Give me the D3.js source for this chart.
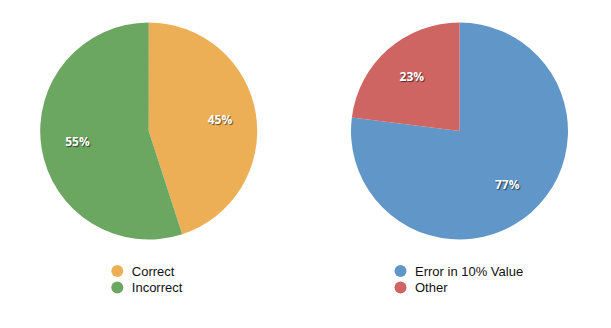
<!DOCTYPE html>
<html>
<head>
<meta charset="utf-8">
<script src="https://cdn.jsdelivr.net/npm/d3@7"></script>
<style>
  body { margin: 0; background: #fff; }
  .slice-label {
    font-family: "Open Sans", sans-serif;
    font-weight: bold;
    font-size: 12px;
    fill: #fff;
    text-shadow: 1px 1px 1px rgba(0,0,0,0.6);
  }
  .legend text {
    font-family: "Liberation Sans", Arial, sans-serif;
    font-size: 13px;
    fill: #111;
  }
</style>
</head>
<body>
<svg id="chart" width="611" height="328"></svg>
<script>
// Chart data
var leftCategories = ["Correct", "Incorrect"];
var leftValues = [45, 55];
var leftColours = ["#edaf56", "#6ca762"];

var rightCategories = ["Error in 10% Value", "Other"];
var rightValues = [77, 23];
var rightColours = ["#6096c8", "#cf6562"];

var svg = d3.select("#chart");
var radius = 108.5;

function drawPie(cx, cy, legendX, categories, values, colours) {
    var rows = categories.map(function(c, i) { return {name: c, value: values[i]}; });

    var pie = d3.pie().sort(null).value(function(d) { return d.value; });
    var arc = d3.arc().innerRadius(0).outerRadius(radius);
    var labelArc = d3.arc().innerRadius(radius * 0.665).outerRadius(radius * 0.665);
    var colour = d3.scaleOrdinal().domain(categories).range(colours);
    var total = d3.sum(values);

    var g = svg.append("g").attr("transform", "translate(" + cx + "," + cy + ")");
    var arcs = pie(rows);

    g.selectAll("path")
        .data(arcs)
        .enter()
        .append("path")
        .attr("d", arc)
        .attr("fill", function(d) { return colour(d.data.name); });

    g.selectAll("text")
        .data(arcs)
        .enter()
        .append("text")
        .attr("class", "slice-label")
        .attr("transform", function(d) { return "translate(" + labelArc.centroid(d) + ")"; })
        .attr("text-anchor", "middle")
        .attr("dy", "0.35em")
        .text(function(d) { return Math.round(d.data.value / total * 100) + "%"; });

    // Legend
    var legend = svg.append("g")
        .attr("class", "legend")
        .attr("transform", "translate(" + legendX + ",271)");

    var item = legend.selectAll("g")
        .data(rows)
        .enter()
        .append("g")
        .attr("transform", function(d, i) { return "translate(0," + (i * 16.5) + ")"; });

    item.append("circle")
        .attr("r", 6)
        .attr("fill", function(d) { return colour(d.name); });

    item.append("text")
        .attr("x", 14.5)
        .attr("dy", "0.36em")
        .text(function(d) { return d.name; });
}

drawPie(148.7, 131, 117.3, leftCategories, leftValues, leftColours);
drawPie(459.5, 131, 400.5, rightCategories, rightValues, rightColours);
</script>
</body>
</html>
